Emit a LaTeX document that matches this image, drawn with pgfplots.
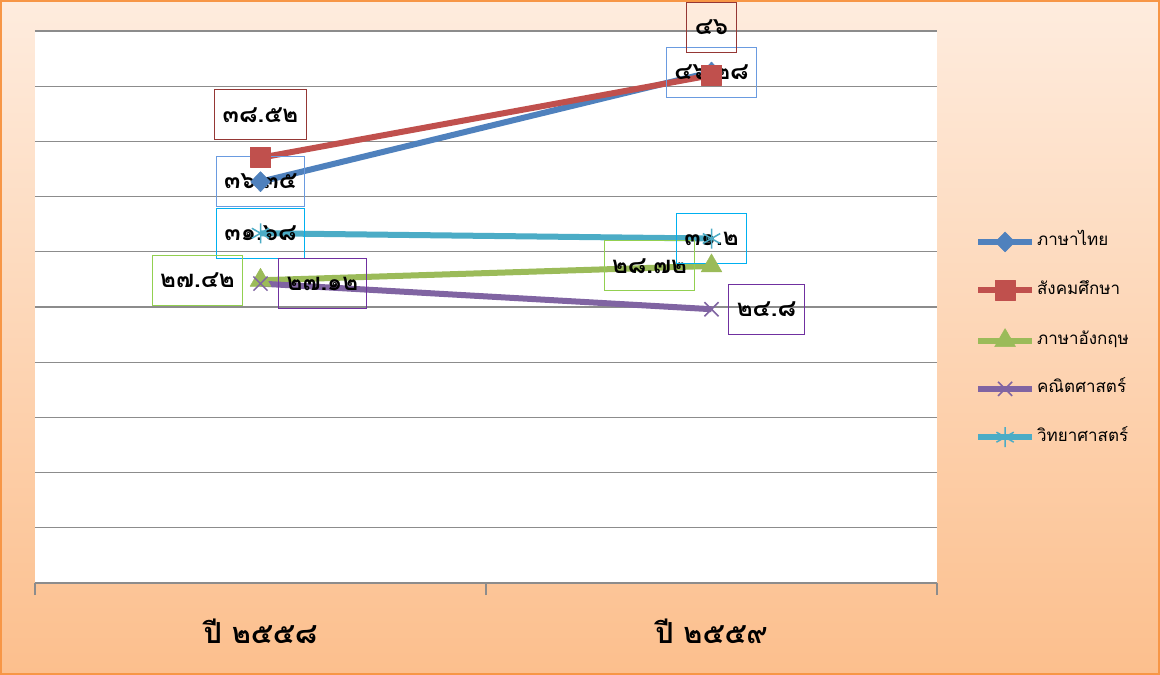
\documentclass[border=0pt]{standalone}
\usepackage{pgfplots}
\pgfplotsset{compat=1.18}
\usepackage{fontspec}
\setmainfont{Liberation Sans}
\newfontfamily\thaifont[Script=Thai]{Loma}
\definecolor{sThai}{HTML}{4F81BD}
\definecolor{sSoc}{HTML}{C0504D}
\definecolor{sEng}{HTML}{9BBB59}
\definecolor{sMath}{HTML}{8064A2}
\definecolor{sSci}{HTML}{4BACC6}
\definecolor{bThai}{HTML}{6A9BE0}
\definecolor{bSoc}{HTML}{953735}
\definecolor{bEng}{HTML}{92D050}
\definecolor{bMath}{HTML}{7030A0}
\definecolor{bSci}{HTML}{00B0F0}
\definecolor{bgTop}{HTML}{FEECDE}
\definecolor{bgBot}{HTML}{FCBF8D}
\definecolor{frame}{HTML}{F79646}
\definecolor{gridc}{HTML}{8C8C8C}
\begin{document}
\begin{tikzpicture}
\useasboundingbox (0,0) rectangle (1160pt,675pt);
\shade[top color=bgTop, bottom color=bgBot] (0,0) rectangle (1160pt,675pt);
\draw[frame, line width=2pt] (1pt,1pt) rectangle (1159pt,674pt);
\begin{axis}[
  scale only axis, width=902pt, height=552pt,
  at={(35pt,92pt)}, anchor=south west,
  clip=false,
  axis background/.style={fill=white},
  axis line style={draw=none},
  xmin=-0.5, xmax=1.5, ymin=0, ymax=50,
  xtick={0,1},
  xticklabels={ปี ๒๕๕๘, ปี ๒๕๕๙},
  xticklabel style={font=\thaifont\bfseries\fontsize{29}{34}\selectfont, yshift=-32pt},
  minor xtick={-0.5,0.5,1.5},
  xtick pos=bottom, tick align=outside,
  major tick length=0pt, minor tick length=12pt,
  minor tick style={gridc, line width=1.2pt},
  ytick={0,5,...,50}, yticklabels={}, ytick pos=left,
  ymajorgrids, major grid style={gridc, line width=1.2pt},
  legend cell align=left,
  legend style={draw=none, fill=none, at={(1.042,0.441)}, anchor=west,
    font=\thaifont\fontsize{17}{20}\selectfont, inner sep=0pt,
    row sep=28.3pt,
    nodes={text height=12pt, text depth=4pt, inner sep=2pt}},
  legend image code/.code={\draw[mark repeat=2, mark phase=2] plot coordinates {(0pt,0pt) (27pt,0pt) (54pt,0pt)};},
  every axis plot/.append style={line width=6pt, line join=round},
]
\addplot[sThai, mark=diamond*, mark size=10pt, mark options={line width=0.5pt, xscale=1.3}] coordinates {(0,36.35) (1,46.28)};
\addlegendentry{ภาษาไทย}
\addplot[sSoc, mark=square*, mark size=10pt, mark options={line width=0.5pt}] coordinates {(0,38.52) (1,46)};
\addlegendentry{สังคมศึกษา}
\addplot[sEng, mark=triangle*, mark size=12pt, mark options={line width=0.5pt}] coordinates {(0,27.42) (1,28.72)};
\addlegendentry{ภาษาอังกฤษ}
\addplot[sMath, mark=x, mark size=10pt, mark options={line width=1.5pt}] coordinates {(0,27.12) (1,24.8)};
\addlegendentry{คณิตศาสตร์}
\addplot[sSci, mark=asterisk, mark size=10pt, mark options={line width=1.5pt}] coordinates {(0,31.68) (1,31.2)};
\addlegendentry{วิทยาศาสตร์}
\tikzset{dl/.style={draw=#1, line width=1pt, inner xsep=8pt, minimum height=50pt, text=black, font=\thaifont\bfseries\fontsize{24}{28}\selectfont}}
\node[dl=bThai] at (axis cs:0,36.35) {๓๖.๓๕};
\node[dl=bSoc, yshift=43pt] at (axis cs:0,38.52) {๓๘.๕๒};
\node[dl=bSci] at (axis cs:0,31.68) {๓๑.๖๘};
\node[dl=bEng, xshift=-63pt] at (axis cs:0,27.42) {๒๗.๔๒};
\node[dl=bMath, xshift=62pt] at (axis cs:0,27.12) {๒๗.๑๒};
\node[dl=bThai] at (axis cs:1,46.28) {๔๖.๒๘};
\node[dl=bSoc, yshift=48pt] at (axis cs:1,46) {๔๖};
\node[dl=bEng, xshift=-62pt] at (axis cs:1,28.72) {๒๘.๗๒};
\node[dl=bSci] at (axis cs:1,31.2) {๓๑.๒};
\node[dl=bMath, xshift=55pt] at (axis cs:1,24.8) {๒๔.๘};
\end{axis}
\end{tikzpicture}
\end{document}
